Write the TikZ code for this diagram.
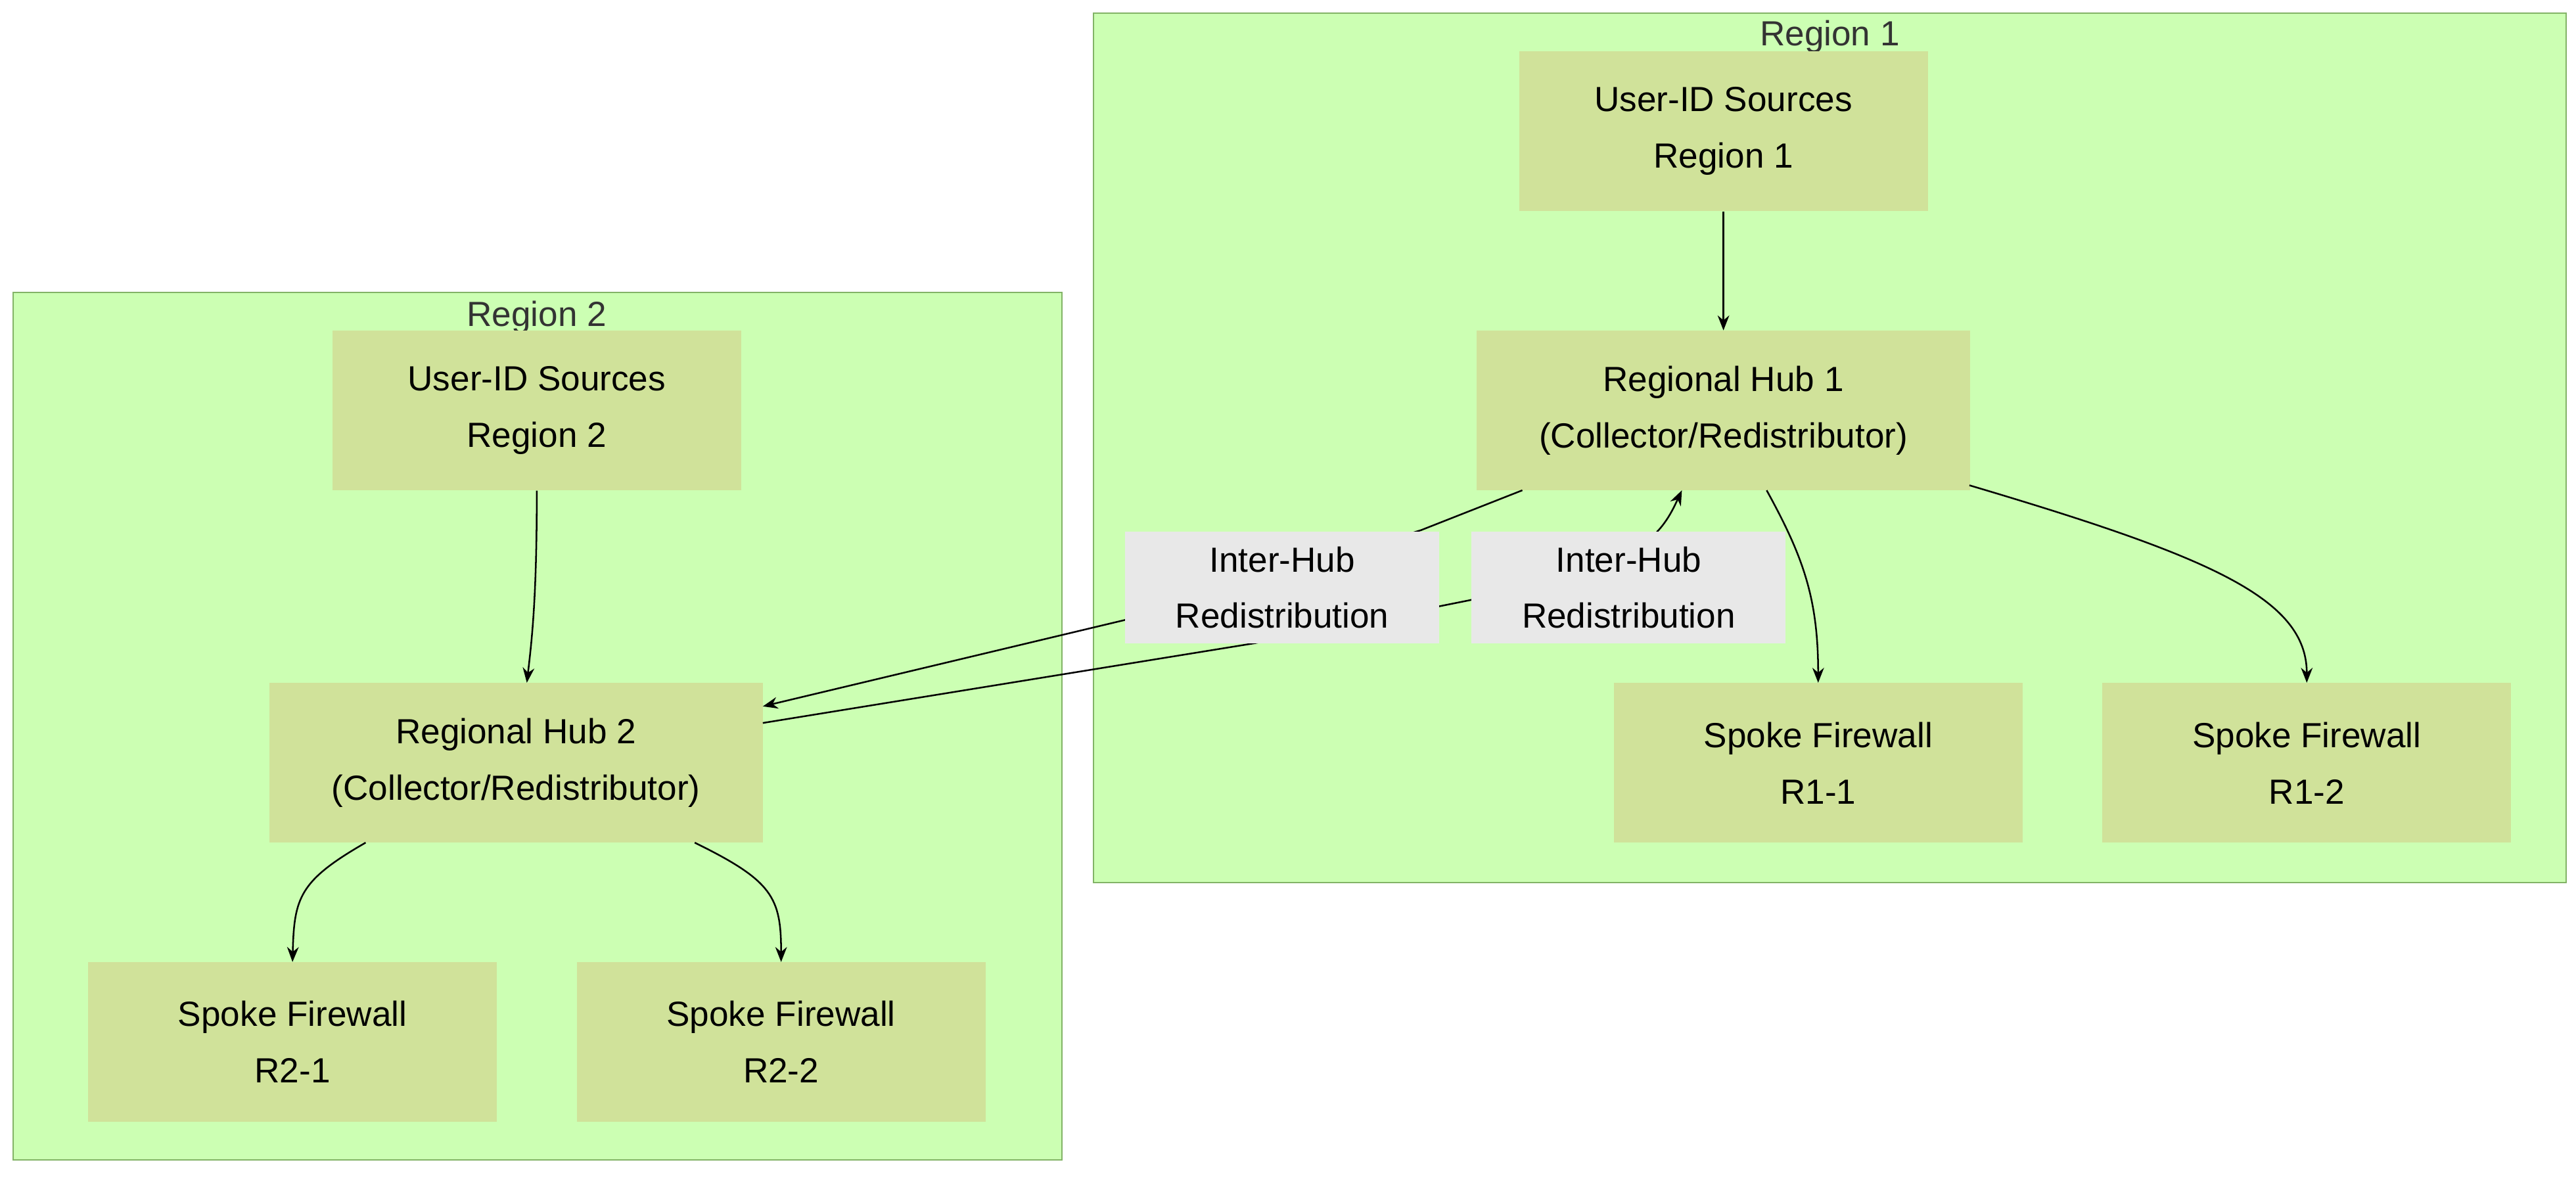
\documentclass[tikz,border=0pt]{standalone}
\usepackage{fontspec}
\setmainfont{Liberation Sans}
\usetikzlibrary{arrows.meta}
\definecolor{regfill}{RGB}{204,255,179}
\definecolor{regdraw}{RGB}{130,179,102}
\definecolor{nodefill}{RGB}{208,226,154}
\definecolor{lblfill}{RGB}{232,232,232}
\begin{document}
\begin{tikzpicture}[x=1pt,y=-1pt,
  every node/.style={font=\fontsize{21}{34}\selectfont},
  box/.style={fill=nodefill,draw=none,minimum width=246pt,minimum height=96pt,align=center,inner sep=0pt},
  hub/.style={box,minimum width=297pt},
  lbl/.style={fill=lblfill,draw=none,minimum width=189pt,minimum height=67pt,align=center,inner sep=0pt},
  region/.style={fill=regfill,draw=regdraw,line width=0.8pt},
  rtitle/.style={text=black!80,font=\fontsize{21}{25}\selectfont},
  edge/.style={draw=black,line width=1pt,-{Stealth[length=9pt,width=7pt]}}]
\useasboundingbox (0,0) rectangle (1550,708);
\draw[region] (658,8) rectangle (1544,531);
\draw[region] (8,176) rectangle (639,698);
\node[rtitle] (t1) at (1101,22) {Region 1};
\node[rtitle] (t2) at (323,191) {Region 2};
\node[box] (u1) at (1037,79) {User-ID Sources\\Region 1};
\node[hub] (h1) at (1037,247) {Regional Hub 1\\(Collector/Redistributor)};
\node[box] (s11) at (1094,459) {Spoke Firewall\\R1-1};
\node[box] (s12) at (1388,459) {Spoke Firewall\\R1-2};
\node[box] (u2) at (323,247) {User-ID Sources\\Region 2};
\node[hub] (h2) at (310.5,459) {Regional Hub 2\\(Collector/Redistributor)};
\node[box] (s21) at (176,627) {Spoke Firewall\\R2-1};
\node[box] (s22) at (470,627) {Spoke Firewall\\R2-2};
\coordinate (h1a) at (916,295);
\coordinate (h1b) at (1012,295);
\coordinate (h1c) at (1063,295);
\coordinate (h1d) at (1185,292);
\coordinate (h2a) at (459,425);
\coordinate (h2b) at (459,435);
\coordinate (h2c) at (220,507);
\coordinate (h2d) at (418,507);
\draw[edge] (u1) -- (h1);
\draw[edge] (h1c) .. controls (1085,335) and (1094,360) .. (s11.north);
\draw[edge] (h1d) .. controls (1330,335) and (1388,360) .. (s12.north);
\draw[edge] (u2.south) .. controls (323,360) and (320,385) .. (h2.north-|317,0);
\draw[edge] (h2c) .. controls (180,530) and (177,540) .. (s21.north);
\draw[edge] (h2d) .. controls (465,530) and (470,540) .. (s22.north);
\draw[edge] (h1a) -- (855,319) -- (677,373) -- (h2a);
\draw[edge] (h2b) -- (755,387) -- (885,361) -- (985,330) .. controls (1000,320) and (1005,310) .. (h1b);
\node[lbl] (l1) at (771.5,353.5) {Inter-Hub\\Redistribution};
\node[lbl] (l2) at (980,353.5) {Inter-Hub\\Redistribution};
\end{tikzpicture}
\end{document}
